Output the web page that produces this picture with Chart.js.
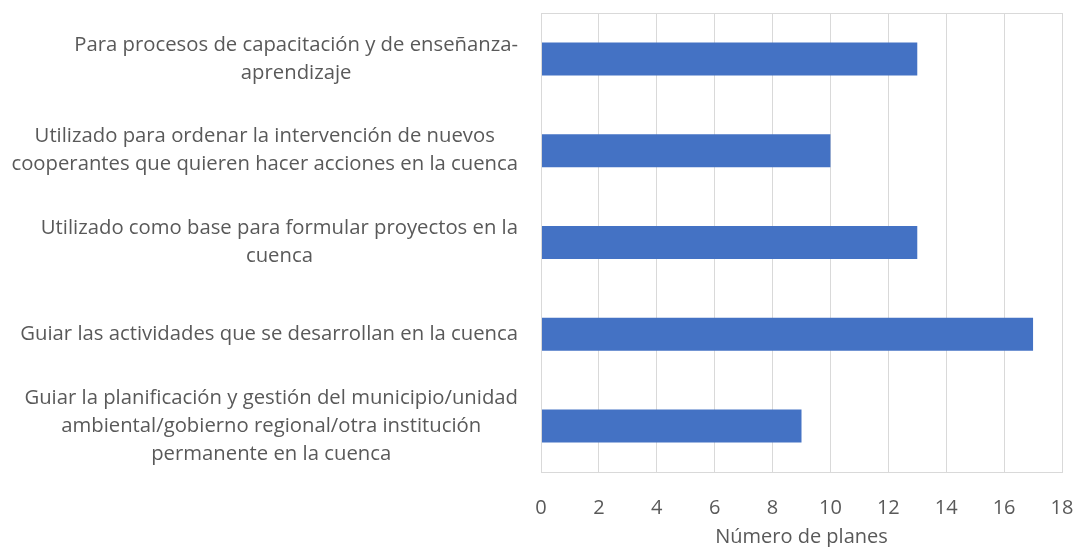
<!DOCTYPE html>
<html>
<head>
<meta charset="utf-8">
<script src="https://cdn.jsdelivr.net/npm/chart.js@4/dist/chart.umd.min.js"></script>
<style>
  html, body { margin: 0; padding: 0; background: #fff; }
  #wrap { width: 1076px; height: 547px; }
</style>
</head>
<body>
<div id="wrap"><canvas id="planesChart"></canvas></div>
<script>
var categories = [
    ['Para procesos de capacitación y de enseñanza-', 'aprendizaje'],
    ['Utilizado para ordenar la intervención de nuevos', 'cooperantes que quieren hacer acciones en la cuenca'],
    ['Utilizado como base para formular proyectos en la', 'cuenca'],
    ['Guiar las actividades que se desarrollan en la cuenca'],
    ['Guiar la planificación y gestión del municipio/unidad', 'ambiental/gobierno regional/otra institución', 'permanente en la cuenca']
];
var planes = [13, 10, 13, 17, 9];
var xTitle = 'Número de planes';

var textColor = '#595959';
var gridColor = '#d9d9d9';
var fontFamily = 'Open Sans';
var labelFont = '20.3px "Open Sans"';

// thin frame around the plot area, like the original
var frame = {
    id: 'frame',
    afterDraw: function (chart) {
        var a = chart.chartArea, c = chart.ctx;
        c.save();
        c.strokeStyle = gridColor;
        c.lineWidth = 1;
        c.strokeRect(Math.round(a.left) + 0.5, Math.round(a.top) + 0.5, Math.round(a.right - a.left), Math.round(a.bottom - a.top));
        c.restore();
    }
};

// category labels: block right-aligned next to the axis, lines centred inside the block (Excel style)
var catLabels = {
    id: 'catLabels',
    afterDraw: function (chart) {
        var y = chart.scales.y, c = chart.ctx;
        var right = y.right - 23, lh = 28;
        c.save();
        c.font = labelFont;
        c.fillStyle = textColor;
        c.textAlign = 'center';
        c.textBaseline = 'middle';
        chart.data.labels.forEach(function (lines, i) {
            var w = 0;
            lines.forEach(function (l) { w = Math.max(w, c.measureText(l).width); });
            var cx = right - w / 2;
            var cy = y.getPixelForTick(i) - (lines.length - 1) * lh / 2;
            lines.forEach(function (l, k) { c.fillText(l, cx, cy + k * lh); });
        });
        c.restore();
    }
};

document.addEventListener('DOMContentLoaded', function () {
    var ctx = document.getElementById('planesChart').getContext('2d');
    new Chart(ctx, {
        type: 'bar',
        data: {
            labels: categories,
            datasets: [{
                data: planes,
                backgroundColor: '#4472c4',
                categoryPercentage: 1,
                barPercentage: 0.36
            }]
        },
        plugins: [frame, catLabels],
        options: {
            indexAxis: 'y',
            responsive: true,
            maintainAspectRatio: false,
            animation: false,
            layout: { padding: { top: 13, right: 14, bottom: 0, left: 0 } },
            plugins: {
                legend: { display: false },
                tooltip: { enabled: false }
            },
            scales: {
                x: {
                    min: 0,
                    max: 18,
                    ticks: { stepSize: 2, color: textColor, font: { family: fontFamily, size: 20 }, padding: 24 },
                    grid: { color: gridColor, drawTicks: false },
                    border: { display: false },
                    title: { display: true, text: xTitle, color: textColor, font: { family: fontFamily, size: 20, lineHeight: 1 }, padding: { top: 4, bottom: 0 } },
                    afterFit: function (scale) {
                        scale.height = 75;
                        scale.paddingLeft = 0;
                        scale.paddingRight = 0;
                    }
                },
                y: {
                    ticks: { display: false },
                    grid: { display: false, drawTicks: false },
                    border: { color: '#bfbfbf' },
                    afterFit: function (scale) {
                        scale.width = 541;
                        scale.paddingTop = 0;
                        scale.paddingBottom = 0;
                    }
                }
            }
        }
    });
});
</script>
</body>
</html>
